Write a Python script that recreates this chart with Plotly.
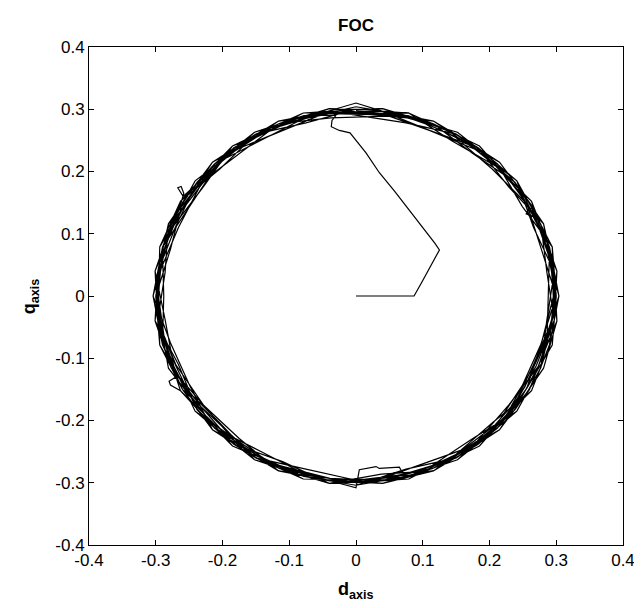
import plotly.graph_objects as go

# ---- data ----
start_d = [0.000, 0.045, 0.087, 0.100, 0.113, 0.125, 0.118, 0.100, 0.080, 0.058, 0.035, 0.015, -0.009, -0.025, -0.037, -0.036, -0.030]
start_q = [0.000, 0.000, 0.000, 0.025, 0.050, 0.074, 0.085, 0.110, 0.138, 0.168, 0.198, 0.230, 0.262, 0.266, 0.272, 0.282, 0.290]

loop1_d = [-0.078, -0.148, -0.212, -0.263, -0.290, -0.296, -0.290, -0.256, -0.212, -0.148, -0.078, 0.000, 0.078, 0.148, 0.212, 0.260, 0.286, 0.300, 0.294, 0.260, 0.209, 0.150, 0.079, 0.000]
loop1_q = [0.290, 0.256, 0.212, 0.152, 0.078, 0.000, -0.078, -0.148, -0.212, -0.256, -0.290, -0.304, -0.290, -0.256, -0.212, -0.150, -0.077, 0.000, 0.079, 0.150, 0.209, 0.260, 0.294, 0.300]

loop2_d = [-0.040, -0.115, -0.185, -0.238, -0.270, -0.297, -0.301, -0.277, -0.232, -0.183, -0.116, -0.039, 0.039, 0.115, 0.185, 0.235, 0.270, 0.297, 0.301, 0.277, 0.235, 0.185, 0.115, 0.039]
loop2_q = [0.301, 0.277, 0.241, 0.183, 0.112, 0.039, -0.040, -0.115, -0.178, -0.238, -0.281, -0.297, -0.293, -0.277, -0.241, -0.180, -0.112, -0.039, 0.040, 0.115, 0.180, 0.241, 0.277, 0.297]

loop3_d = [0.000, -0.077, -0.150, -0.209, -0.259, -0.267, -0.262, -0.258, -0.262, -0.286, -0.300, -0.286, -0.270, -0.280, -0.278, -0.263, -0.209, -0.150, -0.077, 0.000, 0.077, 0.150, 0.209, 0.263, 0.290, 0.296, 0.290, 0.256, 0.212, 0.152, 0.077]
loop3_q = [0.310, 0.286, 0.260, 0.209, 0.160, 0.174, 0.176, 0.165, 0.150, 0.077, 0.000, -0.077, -0.130, -0.137, -0.143, -0.152, -0.209, -0.260, -0.286, -0.300, -0.286, -0.260, -0.209, -0.152, -0.078, 0.000, 0.078, 0.148, 0.212, 0.263, 0.286]

loop4_d = [-0.039, -0.116, -0.180, -0.241, -0.277, -0.294, -0.297, -0.270, -0.238, -0.180, -0.115, -0.040, 0.039, 0.113, 0.183, 0.241, 0.277, 0.294, 0.297, 0.273, 0.241, 0.183, 0.113, 0.040]
loop4_q = [0.297, 0.281, 0.235, 0.185, 0.115, 0.039, -0.039, -0.112, -0.183, -0.235, -0.277, -0.301, -0.297, -0.273, -0.238, -0.185, -0.115, -0.039, 0.039, 0.113, 0.185, 0.238, 0.273, 0.301]

loop5_d = [0.000, -0.079, -0.148, -0.215, -0.256, -0.294, -0.296, -0.294, -0.260, -0.215, -0.148, -0.079, 0.000, 0.079, 0.148, 0.215, 0.256, 0.294, 0.300, 0.286, 0.263, 0.209, 0.150, 0.078]
loop5_q = [0.300, 0.294, 0.256, 0.215, 0.148, 0.079, 0.000, -0.079, -0.150, -0.215, -0.256, -0.294, -0.296, -0.294, -0.256, -0.215, -0.148, -0.079, 0.000, 0.077, 0.152, 0.209, 0.260, 0.290]

loop6_d = [-0.039, -0.115, -0.183, -0.235, -0.281, -0.297, -0.294, -0.281, -0.235, -0.185, -0.113, -0.039, 0.040, 0.116, 0.180, 0.238, 0.281, 0.301, 0.294, 0.281, 0.238, 0.180, 0.116, 0.039]
loop6_q = [0.293, 0.277, 0.238, 0.180, 0.116, 0.039, -0.039, -0.116, -0.180, -0.241, -0.273, -0.293, -0.301, -0.281, -0.235, -0.183, -0.116, -0.040, 0.039, 0.116, 0.183, 0.235, 0.281, 0.293]

loop7_d = [0.000, -0.078, -0.152, -0.212, -0.263, -0.286, -0.304, -0.290, -0.256, -0.212, -0.152, -0.077, 0.000, 0.005, 0.030, 0.035, 0.065, 0.068, 0.078, 0.152, 0.212, 0.253, 0.282, 0.304, 0.290, 0.265, 0.255, 0.258, 0.266, 0.260, 0.215, 0.148, 0.078]
loop7_q = [0.296, 0.290, 0.263, 0.212, 0.152, 0.077, 0.000, -0.078, -0.148, -0.212, -0.263, -0.286, -0.308, -0.279, -0.274, -0.277, -0.275, -0.281, -0.290, -0.263, -0.212, -0.146, -0.076, 0.000, 0.078, 0.128, 0.132, 0.140, 0.142, 0.150, 0.215, 0.256, 0.290]

loop8_d = [-0.039, -0.113, -0.183, -0.232, -0.277, -0.301, -0.297, -0.273, -0.241, -0.178, -0.115, -0.039, 0.039, 0.116, 0.178, 0.238, 0.273, 0.297, 0.294, 0.277, 0.241, 0.183, 0.116, 0.039]
loop8_q = [0.297, 0.273, 0.238, 0.178, 0.115, 0.040, -0.039, -0.113, -0.185, -0.232, -0.277, -0.293, -0.297, -0.281, -0.232, -0.183, -0.113, -0.039, 0.039, 0.115, 0.185, 0.238, 0.281, 0.297]

loop9_d = [0.000, -0.077, -0.152, -0.209, -0.249, -0.290, -0.304, -0.278, -0.249, -0.215, -0.150, -0.079, 0.000, 0.078, 0.152, 0.209, 0.249, 0.278, 0.296, 0.294, 0.249, 0.212, 0.152, 0.077]
loop9_q = [0.304, 0.286, 0.263, 0.209, 0.144, 0.078, 0.000, -0.075, -0.144, -0.215, -0.260, -0.294, -0.296, -0.290, -0.263, -0.209, -0.144, -0.075, 0.000, 0.079, 0.144, 0.212, 0.263, 0.286]

loop10_d = [-0.040, -0.113, -0.185, -0.229, -0.273, -0.301, -0.294, -0.277, -0.229, -0.180, -0.115, -0.040, 0.039, 0.110, 0.183, 0.232, 0.262, 0.294, 0.301, 0.273, 0.238, 0.175, 0.115, 0.040]
loop10_q = [0.301, 0.273, 0.241, 0.175, 0.113, 0.040, -0.039, -0.115, -0.175, -0.235, -0.277, -0.301, -0.293, -0.266, -0.238, -0.178, -0.120, -0.039, 0.040, 0.113, 0.183, 0.229, 0.277, 0.301]

loop11_d = [0.000, -0.075, -0.150, -0.215, -0.260, -0.278, -0.300, -0.294, -0.256, -0.204, -0.152, -0.078, 0.000, 0.075, 0.150, 0.215, 0.260, 0.286, 0.288, 0.290, 0.263, 0.209, 0.144, 0.079]
loop11_q = [0.300, 0.278, 0.260, 0.215, 0.150, 0.075, 0.000, -0.079, -0.148, -0.204, -0.263, -0.290, -0.304, -0.278, -0.260, -0.215, -0.150, -0.077, 0.000, 0.078, 0.152, 0.209, 0.249, 0.294]

loop12_d = [-0.039, -0.116, -0.183, -0.232, -0.266, -0.294, -0.301, -0.266, -0.238, -0.185, -0.113, -0.039, 0.040, 0.115, 0.180, 0.229, 0.273, 0.301, 0.297, 0.266, 0.241, 0.180, 0.110, 0.039]
loop12_q = [0.293, 0.281, 0.238, 0.180, 0.110, 0.039, -0.040, -0.110, -0.183, -0.241, -0.273, -0.297, -0.301, -0.277, -0.235, -0.175, -0.113, -0.040, 0.039, 0.110, 0.185, 0.235, 0.266, 0.297]

loop13_d = [0.000, -0.079, -0.150, -0.204, -0.263, -0.294, -0.296, -0.286, -0.263, -0.212, -0.144, -0.077, 0.000, 0.079, 0.148, 0.204, 0.263, 0.290, 0.304, 0.286, 0.260, 0.215, 0.150, 0.075]
loop13_q = [0.296, 0.294, 0.260, 0.204, 0.152, 0.079, 0.000, -0.077, -0.152, -0.212, -0.249, -0.286, -0.300, -0.294, -0.256, -0.204, -0.152, -0.078, 0.000, 0.077, 0.150, 0.215, 0.260, 0.278]

loop14_d = [-0.039, -0.110, -0.180, -0.238, -0.281, -0.286, -0.297, -0.270, -0.228, -0.175, -0.116, -0.039, 0.039, 0.113, 0.175, 0.241, 0.277, 0.286, 0.297, 0.281, 0.229, 0.183, 0.113, 0.040]
loop14_q = [0.297, 0.266, 0.235, 0.183, 0.116, 0.038, -0.039, -0.110, -0.176, -0.229, -0.281, -0.293, -0.297, -0.273, -0.229, -0.185, -0.115, -0.038, 0.039, 0.116, 0.175, 0.238, 0.273, 0.301]

loop15_d = [0.000, -0.077, -0.144, -0.212, -0.256, -0.290, -0.288, -0.290, -0.260, -0.150, -0.075, 0.000, 0.077, 0.150, 0.212, 0.256, 0.300, 0.278, 0.256, 0.204, 0.148, 0.078]
loop15_q = [0.300, 0.286, 0.249, 0.212, 0.148, 0.078, 0.000, -0.078, -0.150, -0.260, -0.278, -0.296, -0.286, -0.260, -0.212, -0.148, 0.000, 0.075, 0.148, 0.204, 0.256, 0.290]

loop16_d = [-0.038, -0.115, -0.175, -0.235, -0.277, -0.301, -0.286, -0.273, -0.241, -0.183, -0.110, -0.040, 0.038, 0.116, 0.183, 0.235, 0.266, 0.297, 0.286, 0.277, 0.235, 0.183, 0.110, 0.039, 0.000]
loop16_q = [0.286, 0.277, 0.229, 0.180, 0.115, 0.040, -0.038, -0.113, -0.185, -0.238, -0.266, -0.301, -0.286, -0.281, -0.238, -0.180, -0.110, -0.039, 0.038, 0.115, 0.180, 0.238, 0.266, 0.293, 0.298]

tick_vals = [-0.4, -0.3, -0.2, -0.1, 0.0, 0.1, 0.2, 0.3, 0.4]
tick_text = ["-0.4", "-0.3", "-0.2", "-0.1", "0", "0.1", "0.2", "0.3", "0.4"]

d_loops = [loop1_d, loop2_d, loop3_d, loop4_d, loop5_d, loop6_d, loop7_d, loop8_d,
           loop9_d, loop10_d, loop11_d, loop12_d, loop13_d, loop14_d, loop15_d, loop16_d]
q_loops = [loop1_q, loop2_q, loop3_q, loop4_q, loop5_q, loop6_q, loop7_q, loop8_q,
           loop9_q, loop10_q, loop11_q, loop12_q, loop13_q, loop14_q, loop15_q, loop16_q]

d_all = list(start_d)
q_all = list(start_q)
for dl, ql in zip(d_loops, q_loops):
    d_all += dl
    q_all += ql

fig = go.Figure()
fig.add_trace(go.Scatter(x=d_all, y=q_all, mode="lines",
                         line=dict(color="black", width=1.2), showlegend=False,
                         hoverinfo="skip"))

font_family = "Liberation Sans, Arial, sans-serif"
axis_common = dict(range=[-0.4, 0.4], tickvals=tick_vals, ticktext=tick_text,
                   ticks="inside", ticklen=5, tickwidth=1, tickcolor="black",
                   showline=True, linecolor="black", linewidth=1, mirror="ticks",
                   showgrid=False, zeroline=False,
                   tickfont=dict(family=font_family, size=17, color="black"))

fig.update_layout(
    width=642, height=608,
    margin=dict(l=81, r=27, t=39, b=71),
    paper_bgcolor="white", plot_bgcolor="white",
    xaxis=dict(**axis_common),
    yaxis=dict(**axis_common),
    title=dict(text="<b>FOC</b>", x=0.5, xref="paper", y=1 - 17 / 608, yanchor="middle",
               xanchor="center", font=dict(family=font_family, size=17, color="black")),
    annotations=[
        dict(text="<b>d<sub>axis</sub></b>", xref="paper", yref="paper", x=0.5, y=-0.092,
             xanchor="center", yanchor="middle", showarrow=False,
             font=dict(family=font_family, size=18, color="black")),
        dict(text="<b>q<sub>axis</sub></b>", xref="paper", yref="paper", x=-0.11, y=0.5,
             xanchor="center", yanchor="middle", textangle=-90, showarrow=False,
             font=dict(family=font_family, size=18, color="black")),
    ],
)

fig.write_html("out.html")
